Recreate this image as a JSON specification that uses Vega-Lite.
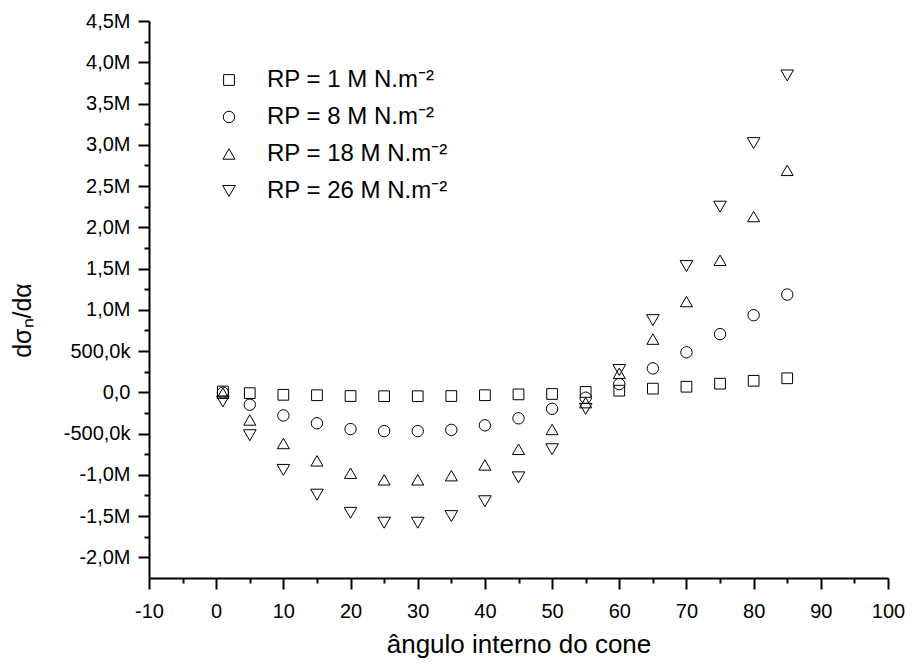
{
  "$schema": "https://vega.github.io/schema/vega-lite/v6.json",
  "width": 739,
  "height": 557,
  "autosize": "none",
  "padding": {"left": 149, "top": 21, "right": 24, "bottom": 86},
  "background": "white",
  "config": {"view": {"stroke": null}, "font": "Liberation Sans"},
  "data": {"values": [
    {"angulo": 1, "RP": "RP = 1 M N.m⁻²", "d": 10000},
    {"angulo": 5, "RP": "RP = 1 M N.m⁻²", "d": -10000},
    {"angulo": 10, "RP": "RP = 1 M N.m⁻²", "d": -30000},
    {"angulo": 15, "RP": "RP = 1 M N.m⁻²", "d": -35000},
    {"angulo": 20, "RP": "RP = 1 M N.m⁻²", "d": -45000},
    {"angulo": 25, "RP": "RP = 1 M N.m⁻²", "d": -47000},
    {"angulo": 30, "RP": "RP = 1 M N.m⁻²", "d": -47000},
    {"angulo": 35, "RP": "RP = 1 M N.m⁻²", "d": -45000},
    {"angulo": 40, "RP": "RP = 1 M N.m⁻²", "d": -35000},
    {"angulo": 45, "RP": "RP = 1 M N.m⁻²", "d": -25000},
    {"angulo": 50, "RP": "RP = 1 M N.m⁻²", "d": -20000},
    {"angulo": 55, "RP": "RP = 1 M N.m⁻²", "d": 5000},
    {"angulo": 60, "RP": "RP = 1 M N.m⁻²", "d": 20000},
    {"angulo": 65, "RP": "RP = 1 M N.m⁻²", "d": 45000},
    {"angulo": 70, "RP": "RP = 1 M N.m⁻²", "d": 68000},
    {"angulo": 75, "RP": "RP = 1 M N.m⁻²", "d": 105000},
    {"angulo": 80, "RP": "RP = 1 M N.m⁻²", "d": 140000},
    {"angulo": 85, "RP": "RP = 1 M N.m⁻²", "d": 170000},
    {"angulo": 1, "RP": "RP = 8 M N.m⁻²", "d": -5000},
    {"angulo": 5, "RP": "RP = 8 M N.m⁻²", "d": -150000},
    {"angulo": 10, "RP": "RP = 8 M N.m⁻²", "d": -280000},
    {"angulo": 15, "RP": "RP = 8 M N.m⁻²", "d": -375000},
    {"angulo": 20, "RP": "RP = 8 M N.m⁻²", "d": -445000},
    {"angulo": 25, "RP": "RP = 8 M N.m⁻²", "d": -470000},
    {"angulo": 30, "RP": "RP = 8 M N.m⁻²", "d": -470000},
    {"angulo": 35, "RP": "RP = 8 M N.m⁻²", "d": -455000},
    {"angulo": 40, "RP": "RP = 8 M N.m⁻²", "d": -400000},
    {"angulo": 45, "RP": "RP = 8 M N.m⁻²", "d": -315000},
    {"angulo": 50, "RP": "RP = 8 M N.m⁻²", "d": -200000},
    {"angulo": 55, "RP": "RP = 8 M N.m⁻²", "d": -65000},
    {"angulo": 60, "RP": "RP = 8 M N.m⁻²", "d": 100000},
    {"angulo": 65, "RP": "RP = 8 M N.m⁻²", "d": 290000},
    {"angulo": 70, "RP": "RP = 8 M N.m⁻²", "d": 485000},
    {"angulo": 75, "RP": "RP = 8 M N.m⁻²", "d": 705000},
    {"angulo": 80, "RP": "RP = 8 M N.m⁻²", "d": 935000},
    {"angulo": 85, "RP": "RP = 8 M N.m⁻²", "d": 1185000},
    {"angulo": 1, "RP": "RP = 18 M N.m⁻²", "d": -10000},
    {"angulo": 5, "RP": "RP = 18 M N.m⁻²", "d": -335000},
    {"angulo": 10, "RP": "RP = 18 M N.m⁻²", "d": -620000},
    {"angulo": 15, "RP": "RP = 18 M N.m⁻²", "d": -830000},
    {"angulo": 20, "RP": "RP = 18 M N.m⁻²", "d": -980000},
    {"angulo": 25, "RP": "RP = 18 M N.m⁻²", "d": -1060000},
    {"angulo": 30, "RP": "RP = 18 M N.m⁻²", "d": -1060000},
    {"angulo": 35, "RP": "RP = 18 M N.m⁻²", "d": -1010000},
    {"angulo": 40, "RP": "RP = 18 M N.m⁻²", "d": -880000},
    {"angulo": 45, "RP": "RP = 18 M N.m⁻²", "d": -690000},
    {"angulo": 50, "RP": "RP = 18 M N.m⁻²", "d": -450000},
    {"angulo": 55, "RP": "RP = 18 M N.m⁻²", "d": -125000},
    {"angulo": 60, "RP": "RP = 18 M N.m⁻²", "d": 230000},
    {"angulo": 65, "RP": "RP = 18 M N.m⁻²", "d": 645000},
    {"angulo": 70, "RP": "RP = 18 M N.m⁻²", "d": 1100000},
    {"angulo": 75, "RP": "RP = 18 M N.m⁻²", "d": 1600000},
    {"angulo": 80, "RP": "RP = 18 M N.m⁻²", "d": 2130000},
    {"angulo": 85, "RP": "RP = 18 M N.m⁻²", "d": 2690000},
    {"angulo": 1, "RP": "RP = 26 M N.m⁻²", "d": -110000},
    {"angulo": 5, "RP": "RP = 26 M N.m⁻²", "d": -520000},
    {"angulo": 10, "RP": "RP = 26 M N.m⁻²", "d": -940000},
    {"angulo": 15, "RP": "RP = 26 M N.m⁻²", "d": -1240000},
    {"angulo": 20, "RP": "RP = 26 M N.m⁻²", "d": -1460000},
    {"angulo": 25, "RP": "RP = 26 M N.m⁻²", "d": -1580000},
    {"angulo": 30, "RP": "RP = 26 M N.m⁻²", "d": -1580000},
    {"angulo": 35, "RP": "RP = 26 M N.m⁻²", "d": -1500000},
    {"angulo": 40, "RP": "RP = 26 M N.m⁻²", "d": -1320000},
    {"angulo": 45, "RP": "RP = 26 M N.m⁻²", "d": -1030000},
    {"angulo": 50, "RP": "RP = 26 M N.m⁻²", "d": -690000},
    {"angulo": 55, "RP": "RP = 26 M N.m⁻²", "d": -200000},
    {"angulo": 60, "RP": "RP = 26 M N.m⁻²", "d": 270000},
    {"angulo": 65, "RP": "RP = 26 M N.m⁻²", "d": 875000},
    {"angulo": 70, "RP": "RP = 26 M N.m⁻²", "d": 1530000},
    {"angulo": 75, "RP": "RP = 26 M N.m⁻²", "d": 2250000},
    {"angulo": 80, "RP": "RP = 26 M N.m⁻²", "d": 3020000},
    {"angulo": 85, "RP": "RP = 26 M N.m⁻²", "d": 3840000}
  ]},
  "mark": {"type": "point", "filled": false, "color": "black", "strokeWidth": 1, "opacity": 1},
  "encoding": {
    "x": {
      "field": "angulo", "type": "quantitative",
      "scale": {"domain": [-10, 100], "nice": false, "zero": false},
      "axis": {
        "title": "ângulo interno do cone",
        "values": [-10, -5, 0, 5, 10, 15, 20, 25, 30, 35, 40, 45, 50, 55, 60, 65, 70, 75, 80, 85, 90, 95, 100],
        "labelExpr": "datum.value % 10 == 0 ? '' + datum.value : ''",
        "grid": false,
        "domainColor": "black", "domainWidth": 2,
        "tickColor": "black", "tickWidth": 2,
        "tickSize": {"condition": {"test": "datum.value % 10 != 0", "value": 5}, "value": 11},
        "labelFont": "Liberation Sans", "labelFontSize": 20, "labelColor": "black",
        "labelPadding": 12, "labelFlush": false, "labelOverlap": false,
        "titleFont": "Liberation Sans", "titleFontSize": 26, "titleFontWeight": "normal", "titleColor": "black",
        "titleBaseline": "alphabetic", "titleY": 74
      }
    },
    "y": {
      "field": "d", "type": "quantitative",
      "scale": {"domain": [-2250000, 4500000], "nice": false, "zero": false},
      "axis": {
        "title": "dσₙ/dα",
        "values": [-2000000, -1750000, -1500000, -1250000, -1000000, -750000, -500000, -250000, 0, 250000, 500000, 750000, 1000000, 1250000, 1500000, 1750000, 2000000, 2250000, 2500000, 2750000, 3000000, 3250000, 3500000, 3750000, 4000000, 4250000, 4500000],
        "labelExpr": "abs(datum.value % 500000) > 1 ? '' : datum.value == 0 ? '0,0' : abs(datum.value) >= 1000000 ? replace(replace(format(datum.value / 1000000, '.1f'), '.', ','), '−', '-') + 'M' : replace(replace(format(datum.value / 1000, '.1f'), '.', ','), '−', '-') + 'k'",
        "grid": false,
        "domainColor": "black", "domainWidth": 2,
        "tickColor": "black", "tickWidth": 2,
        "tickSize": {"condition": {"test": "abs(datum.value % 500000) > 1", "value": 5}, "value": 11},
        "labelFont": "Liberation Sans", "labelFontSize": 20, "labelColor": "black",
        "labelPadding": 8, "labelFlush": false, "labelOverlap": false,
        "titleFont": "Liberation Sans", "titleFontSize": 25, "titleFontWeight": "normal", "titleColor": "black",
        "titleAngle": -90, "titleAlign": "center", "titleBaseline": "alphabetic",
        "titleX": -119, "titleY": 299
      }
    },
    "shape": {
      "field": "RP", "type": "nominal",
      "scale": {"domain": ["RP = 1 M N.m⁻²", "RP = 8 M N.m⁻²", "RP = 18 M N.m⁻²", "RP = 26 M N.m⁻²"], "range": ["square", "circle", "triangle-up", "triangle-down"]},
      "legend": {
        "title": null, "orient": "none", "legendX": 68, "legendY": 47,
        "padding": 0, "labelFont": "Liberation Sans", "labelFontSize": 24, "labelColor": "black", "labelLimit": 0,
        "labelOffset": 26, "rowPadding": 13, "symbolStrokeColor": "black", "symbolStrokeWidth": 1, "symbolFillColor": "transparent"
      }
    },
    "size": {
      "field": "RP", "type": "nominal",
      "scale": {"domain": ["RP = 1 M N.m⁻²", "RP = 8 M N.m⁻²", "RP = 18 M N.m⁻²", "RP = 26 M N.m⁻²"], "range": [115, 160, 195, 195]},
      "legend": {
        "title": null, "orient": "none", "legendX": 68, "legendY": 47,
        "padding": 0, "labelFont": "Liberation Sans", "labelFontSize": 24, "labelColor": "black", "labelLimit": 0,
        "labelOffset": 26, "rowPadding": 13, "symbolStrokeColor": "black", "symbolStrokeWidth": 1, "symbolFillColor": "transparent"
      }
    }
  }
}
